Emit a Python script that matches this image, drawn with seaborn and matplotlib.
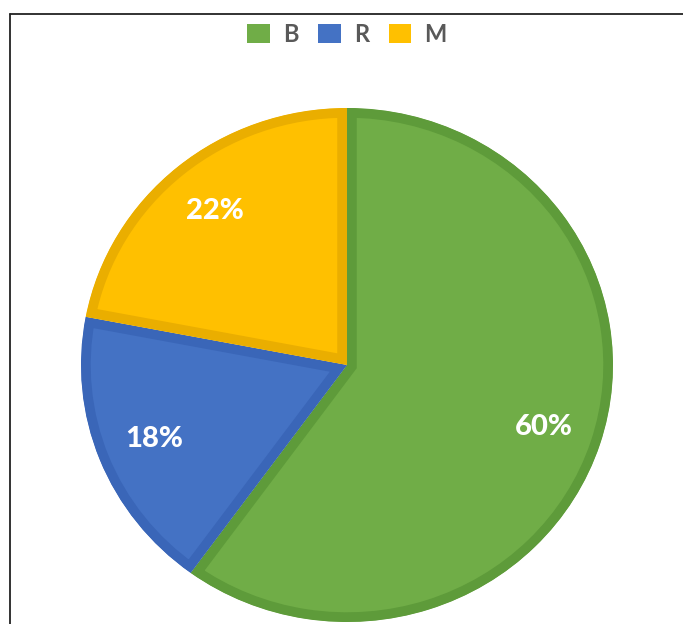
import matplotlib
matplotlib.use("Agg")
import matplotlib.pyplot as plt
import seaborn as sns
from matplotlib.patches import Patch
from matplotlib.lines import Line2D

sns.set_theme(style="white")
plt.rcParams['font.family'] = ['Lato', 'DejaVu Sans']

categories = ["B", "R", "M"]
values = [60, 18, 22]
face_colors = ["#70AD47", "#4472C4", "#FFC000"]
edge_colors = ["#5E9B3A", "#3A66B8", "#EAAE00"]

W, H = 683, 624
fig = plt.figure(figsize=(W / 100, H / 100), dpi=100)
fig.patch.set_facecolor("white")

cx, cy = 347, 365
rx, ry = 266, 257
ax = fig.add_axes([(cx - rx) / W, (H - cy - ry) / H, 2 * rx / W, 2 * ry / H])

wedges, texts, autotexts = ax.pie(
    values, colors=face_colors, startangle=90, counterclock=False,
    autopct="%1.0f%%", pctdistance=0.78, frame=False,
    textprops=dict(color="white", fontsize=21, fontweight="black"),
)
for w, ec in zip(wedges, edge_colors):
    w.set_edgecolor(ec)
    w.set_linewidth(14)
    w.set_clip_on(True)
    w.set_clip_path(w)
ax.set_aspect("auto")
ax.set_xlim(-1, 1)
ax.set_ylim(-1, 1)
ax.axis("off")

handles = [Patch(facecolor=c, edgecolor="none") for c in face_colors]
leg = fig.legend(handles, categories, loc="center", bbox_to_anchor=(347 / W, 1 - 34 / H),
                 ncol=3, frameon=False, fontsize=17, handlelength=0.95, handleheight=0.85,
                 handletextpad=0.55, columnspacing=0.85)
for t in leg.get_texts():
    t.set_color("#595959")
    t.set_fontweight("bold")

# outer frame lines (left and top)
fig.add_artist(Line2D([10 / W, 10 / W], [0, 1 - 14 / H], transform=fig.transFigure,
                      color="#222222", linewidth=1.3))
fig.add_artist(Line2D([10 / W, 1], [1 - 14 / H, 1 - 14 / H], transform=fig.transFigure,
                      color="#222222", linewidth=1.3))

fig.savefig("out.png", dpi=100, facecolor="white")
